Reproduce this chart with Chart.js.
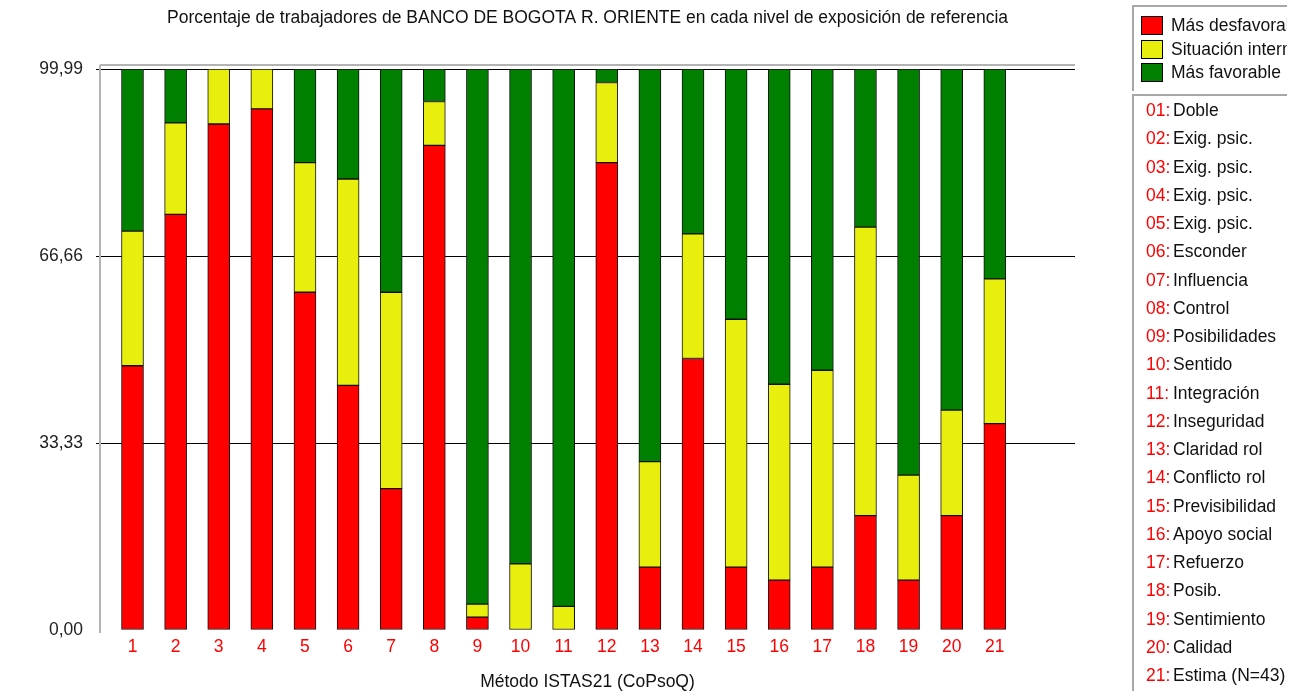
<!DOCTYPE html>
<html lang="es">
<head>
<meta charset="utf-8">
<title>Porcentaje de trabajadores por nivel de exposición</title>
<script src="https://cdn.jsdelivr.net/npm/chart.js@4.4.0/dist/chart.umd.min.js"></script>
<style>
    html, body { margin: 0; padding: 0; background: #ffffff; }
    #contenedor { position: relative; width: 1299px; height: 696px; overflow: hidden;
                  font-family: "Liberation Sans", Arial, sans-serif; color: #111; }
    #grafico { position: absolute; left: 0; top: 0; }
    .caja { position: absolute; left: 1132px; width: 155px; box-sizing: border-box;
            border-left: 2px solid #a8a8a8; border-top: 2px solid #a8a8a8;
            overflow: hidden; white-space: nowrap; font-size: 17.5px; }
    #leyenda { top: 5px; height: 86px; }
    #lista { top: 94px; height: 597px; }
    .item-leyenda { position: absolute; left: 0; height: 19px; line-height: 19px; }
    .cuadro { position: absolute; left: 7px; top: 0; width: 20px; height: 17px; border: 1px solid #000; }
    .texto { position: absolute; left: 37px; top: 0; }
    .fila { height: 28.25px; line-height: 28.25px; padding-left: 12px; }
    .num { color: #ff0000; display: inline-block; width: 27px; }
</style>
</head>
<body>
<div id="contenedor">
    <canvas id="grafico" width="1299" height="696"></canvas>
    <div id="leyenda" class="caja"></div>
    <div id="lista" class="caja"></div>
</div>
<script>
// Datos (porcentaje de trabajadores, N=43)
const categorias = [1, 2, 3, 4, 5, 6, 7, 8, 9, 10, 11, 12, 13, 14, 15, 16, 17, 18, 19, 20, 21];
const nombresDimension = ["Doble", "Exig. psic.", "Exig. psic.", "Exig. psic.", "Exig. psic.",
    "Esconder", "Influencia", "Control", "Posibilidades", "Sentido", "Integración", "Inseguridad",
    "Claridad rol", "Conflicto rol", "Previsibilidad", "Apoyo social", "Refuerzo", "Posib.",
    "Sentimiento", "Calidad", "Estima (N=43)"];
const masDesfavorable = [47.1, 74.1, 90.2, 92.9, 60.2, 43.6, 25.2, 86.4, 2.3, 0, 0, 83.3,
    11.2, 48.4, 11.2, 8.9, 11.2, 20.4, 8.9, 20.4, 36.8];
const situacionIntermedia = [24.0, 16.3, 9.8, 7.1, 23.1, 36.8, 35.0, 7.8, 2.3, 11.8, 4.2, 14.3,
    18.8, 22.2, 44.2, 34.9, 35.1, 51.4, 18.7, 18.8, 25.8];
const masFavorable = [28.9, 9.6, 0, 0, 16.7, 19.6, 39.8, 5.8, 95.4, 88.2, 95.8, 2.4,
    70.0, 29.4, 44.6, 56.2, 53.7, 28.2, 72.4, 60.8, 37.4];
const valoresEjeY = [0, 33.33, 66.66, 99.99];
const etiquetasEjeY = ["0,00", "33,33", "66,66", "99,99"];

const fuente = { family: "'Liberation Sans', Arial, sans-serif", size: 17.5, weight: "normal" };

const series = [
    { nombre: "Más desfavorable", valores: masDesfavorable, color: "#ff0000" },
    { nombre: "Situación intermedia", valores: situacionIntermedia, color: "#e9ef0c" },
    { nombre: "Más favorable", valores: masFavorable, color: "#007f00" }
];

// Línea gris doble encima del área y eje izquierdo gris
const marcoSuperior = {
    id: "marcoSuperior",
    afterDraw(chart) {
        const a = chart.chartArea;
        const c = chart.ctx;
        c.save();
        c.strokeStyle = "#b4b4b4";
        c.lineWidth = 2;
        c.beginPath();
        c.moveTo(a.left, a.top - 4);
        c.lineTo(a.right, a.top - 4);
        c.moveTo(a.left, a.top - 4);
        c.lineTo(a.left, a.bottom + 3);
        c.stroke();
        c.restore();
    }
};

function initGrafico() {
    const lienzo = document.getElementById("grafico");
    if (typeof Chart === "undefined") {
        console.error("Chart.js no fue cargado.");
        return;
    }
    const transparenteEnCero = col => (ctx => (ctx.tick && ctx.tick.value === 0 ? "rgba(0,0,0,0)" : col));
    new Chart(lienzo.getContext("2d"), {
        type: "bar",
        data: {
            datasets: series.map(s => ({
                label: s.nombre,
                data: categorias.map((c, i) => ({ x: c, y: s.valores[i] })),
                backgroundColor: s.color,
                borderColor: "#111",
                borderWidth: 1,
                borderSkipped: false,
                barThickness: 22
            }))
        },
        options: {
            responsive: false,
            animation: false,
            layout: { padding: { left: 0, right: 224, top: 0, bottom: 1 } },
            plugins: {
                legend: { display: false },
                tooltip: { enabled: false },
                title: {
                    display: true,
                    fullSize: false,
                    text: "Porcentaje de trabajadores de BANCO DE BOGOTA R. ORIENTE en cada nivel de exposición de referencia",
                    color: "#111",
                    font: fuente,
                    padding: { top: 8, bottom: 40 }
                }
            },
            scales: {
                x: {
                    type: "linear",
                    min: 0.246,
                    max: 22.86,
                    offset: false,
                    stacked: true,
                    grid: { display: false, drawTicks: false },
                    border: { display: false },
                    afterBuildTicks: s => { s.ticks = categorias.map(v => ({ value: v })); },
                    ticks: {
                        color: "#ff0000",
                        font: fuente,
                        padding: 7,
                        autoSkip: false,
                        maxRotation: 0,
                        callback: v => String(v)
                    },
                    title: {
                        display: true,
                        text: "Método ISTAS21 (CoPsoQ)",
                        color: "#111",
                        font: fuente,
                        padding: { top: 7, bottom: 2 }
                    }
                },
                y: {
                    min: 0,
                    max: 100,
                    stacked: true,
                    afterBuildTicks: s => { s.ticks = valoresEjeY.map(v => ({ value: v })); },
                    afterFit: s => { s.width = 100; },
                    ticks: {
                        color: "#222",
                        font: fuente,
                        padding: 13,
                        callback: (v, i) => etiquetasEjeY[i]
                    },
                    grid: {
                        color: transparenteEnCero("#000"),
                        tickColor: transparenteEnCero("#000"),
                        tickLength: 4
                    },
                    border: { color: "#b4b4b4", width: 2 }
                }
            }
        },
        plugins: [marcoSuperior]
    });
}

function construirLeyendas() {
    const leyenda = document.getElementById("leyenda");
    series.forEach((s, i) => {
        const item = document.createElement("div");
        item.className = "item-leyenda";
        item.style.top = (9 + i * 23.5) + "px";
        item.innerHTML = '<span class="cuadro" style="background:' + s.color + '"></span>' +
            '<span class="texto">' + s.nombre + "</span>";
        leyenda.appendChild(item);
    });
    const lista = document.getElementById("lista");
    categorias.forEach((c, i) => {
        const fila = document.createElement("div");
        fila.className = "fila";
        fila.innerHTML = '<span class="num">' + String(c).padStart(2, "0") + ":</span>" + nombresDimension[i];
        lista.appendChild(fila);
    });
}

construirLeyendas();
initGrafico();
</script>
</body>
</html>
